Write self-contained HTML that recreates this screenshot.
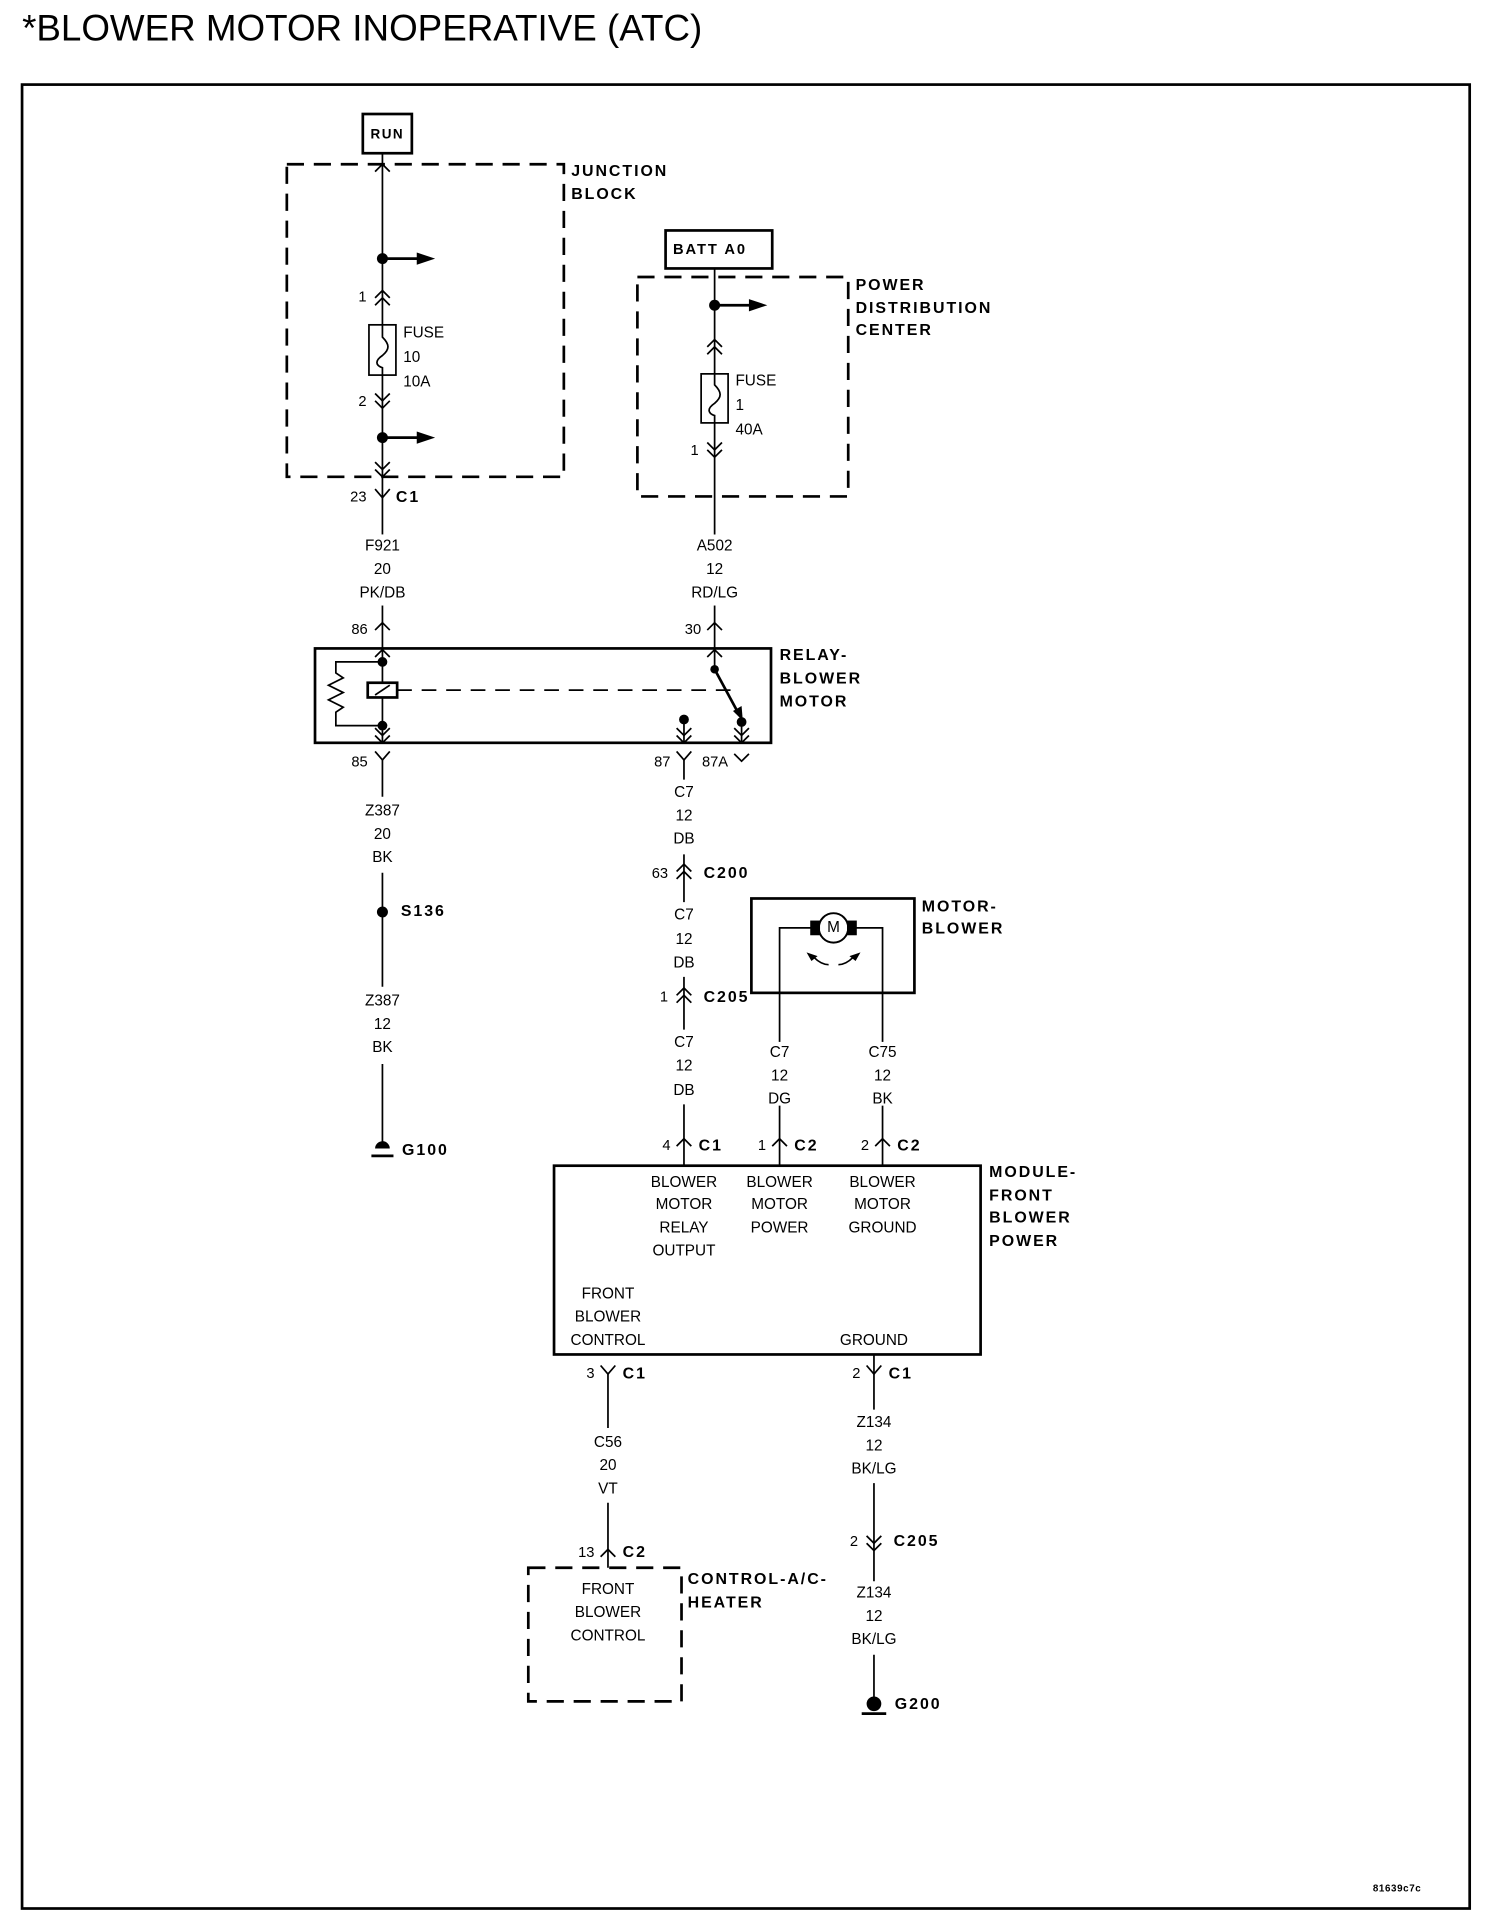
<!DOCTYPE html>
<html><head><meta charset="utf-8"><style>
html,body{margin:0;padding:0;background:#fff;}
svg{display:block}
.t{font-family:"Liberation Sans Narrow","Liberation Sans",sans-serif;font-size:12.5px;fill:#000;text-anchor:middle;dominant-baseline:middle}
.l{font-family:"Liberation Sans Narrow","Liberation Sans",sans-serif;font-size:12.5px;fill:#000;text-anchor:start;dominant-baseline:middle}
.b{font-family:"Liberation Sans",sans-serif;font-weight:bold;font-size:13px;letter-spacing:1.6px;fill:#000;dominant-baseline:middle}
.bc{font-family:"Liberation Sans",sans-serif;font-weight:bold;font-size:11px;letter-spacing:1.2px;fill:#000;dominant-baseline:middle;text-anchor:middle}
.n{font-family:"Liberation Sans Narrow","Liberation Sans",sans-serif;font-size:12px;fill:#000;text-anchor:end;dominant-baseline:middle}
.w{stroke:#000;stroke-width:1.4;fill:none}
.k{stroke:#000;stroke-width:2.2;fill:none}
.d{stroke:#000;stroke-width:2.2;fill:none;stroke-dasharray:14,8}
</style></head><body>
<svg width="1504" height="1922" viewBox="0 0 1227 1568" xmlns="http://www.w3.org/2000/svg">
<defs>
<g id="Y"><path class="w" d="M-6,-7 L0,0 L6,-7"/></g>
<g id="A"><path class="w" d="M-6,6 L0,0 L6,6"/></g>
<g id="AA"><path class="w" d="M-6,6 L0,0 L6,6 M-6,12 L0,6 L6,12"/></g>
<g id="VV"><path class="w" d="M-6,-6 L0,0 L6,-6 M-6,-12 L0,-6 L6,-12"/></g>
<g id="arr"><path class="k" d="M0,0 L30,0"/><path d="M28,-5 L43,0 L28,5 Z" fill="#000"/></g>
</defs>
<text x="18" y="25" style="font-family:'Liberation Sans',sans-serif;font-size:30px;dominant-baseline:middle">*BLOWER MOTOR INOPERATIVE (ATC)</text>
<rect x="18" y="69" width="1181" height="1488" class="k"/>

<!-- left column -->
<rect x="296" y="93" width="40" height="32" class="k"/>
<text x="316" y="110" class="bc">RUN</text>
<rect x="234" y="134" width="226" height="255" class="d"/>
<text x="466" y="140" class="b">JUNCTION</text><text x="466" y="159" class="b">BLOCK</text>
<path class="w" d="M312,125 L312,265 M312,306 L312,406"/>
<use href="#A" x="312" y="134"/>
<circle cx="312" cy="211" r="4.5"/><use href="#arr" x="312" y="211"/>
<use href="#AA" x="312" y="237"/><text x="299" y="243" class="n">1</text>
<rect x="301" y="265" width="22" height="41" class="w"/>
<path class="w" d="M312,265 L312,275 C318,281 318,285 312,290 C306,294 306,298 312,300 L312,306"/>
<text x="329" y="272" class="l">FUSE</text><text x="329" y="292" class="l">10</text><text x="329" y="312" class="l">10A</text>
<use href="#VV" x="312" y="333"/><text x="299" y="328" class="n">2</text>
<circle cx="312" cy="357" r="4.5"/><use href="#arr" x="312" y="357"/>
<use href="#VV" x="312" y="389"/>
<use href="#Y" x="312" y="406"/><path class="w" d="M312,406 L312,436"/>
<text x="299" y="406" class="n">23</text><text x="323" y="406" class="b">C1</text>
<text x="312" y="446" class="t">F921</text><text x="312" y="465" class="t">20</text><text x="312" y="484" class="t">PK/DB</text>
<path class="w" d="M312,494 L312,529"/>
<use href="#A" x="312" y="508"/><text x="300" y="514" class="n">86</text>

<!-- relay -->
<rect x="257" y="529" width="372" height="77" class="k"/>
<text x="636" y="535" class="b">RELAY-</text><text x="636" y="554" class="b">BLOWER</text><text x="636" y="573" class="b">MOTOR</text>
<use href="#A" x="312" y="530"/><use href="#VV" x="312" y="606"/>
<path class="w" d="M312,529 L312,606"/>
<circle cx="312" cy="540" r="4"/><circle cx="312" cy="592" r="4"/>
<path class="w" d="M312,540 L274,540 L274,549 L280,553 L268,559 L280,565 L268,571 L280,577 L274,581 L274,592 L312,592"/>
<rect x="300" y="557" width="24" height="12" class="k" style="fill:#fff"/>
<path class="w" d="M306,567 L318,559"/>
<path class="w" d="M324,563 L598,563" stroke-dasharray="12,8"/>
<use href="#A" x="583" y="530"/>
<path class="w" d="M583,529 L583,546"/><circle cx="583" cy="546" r="3.5"/>
<path class="k" d="M583,546 L603,583"/><path d="M598,580 L606,588 L605,576 Z"/>
<circle cx="605" cy="589" r="4"/><path class="w" d="M605,589 L605,606"/><use href="#VV" x="605" y="606"/>
<circle cx="558" cy="587" r="4"/><path class="w" d="M558,587 L558,606"/><use href="#VV" x="558" y="606"/>
<use href="#Y" x="312" y="620"/><text x="300" y="622" class="n">85</text>
<use href="#Y" x="558" y="620"/><text x="547" y="622" class="n">87</text>
<path class="w" d="M599,615 L605,621 L611,615"/><text x="594" y="622" class="n">87A</text>

<path class="w" d="M312,620 L312,650 M312,712 L312,805 M312,868 L312,933"/>
<text x="312" y="662" class="t">Z387</text><text x="312" y="681" class="t">20</text><text x="312" y="700" class="t">BK</text>
<circle cx="312" cy="744" r="4.5"/><text x="327" y="744" class="b">S136</text>
<text x="312" y="817" class="t">Z387</text><text x="312" y="836" class="t">12</text><text x="312" y="855" class="t">BK</text>
<path d="M306,937 A6,6 0 0 1 318,937 Z"/><path class="k" d="M303,943 L321,943"/>
<text x="328" y="939" class="b">G100</text>

<!-- right column -->
<rect x="543" y="188" width="87" height="31" class="k"/>
<text x="549" y="204" class="b" style="font-size:12px">BATT A0</text>
<rect x="520" y="226" width="172" height="179" class="d"/>
<text x="698" y="233" class="b">POWER</text><text x="698" y="252" class="b">DISTRIBUTION</text><text x="698" y="270" class="b">CENTER</text>
<path class="w" d="M583,219 L583,305 M583,345 L583,436"/>
<circle cx="583" cy="249" r="4.5"/><use href="#arr" x="583" y="249"/>
<use href="#AA" x="583" y="277"/>
<rect x="572" y="305" width="22" height="40" class="w"/>
<path class="w" d="M583,305 L583,314 C589,320 589,324 583,329 C577,333 577,337 583,339 L583,345"/>
<text x="600" y="311" class="l">FUSE</text><text x="600" y="331" class="l">1</text><text x="600" y="351" class="l">40A</text>
<use href="#VV" x="583" y="373"/><text x="570" y="368" class="n">1</text>
<text x="583" y="446" class="t">A502</text><text x="583" y="465" class="t">12</text><text x="583" y="484" class="t">RD/LG</text>
<path class="w" d="M583,494 L583,529"/>
<use href="#A" x="583" y="508"/><text x="572" y="514" class="n">30</text>

<path class="w" d="M558,620 L558,636 M558,697 L558,736 M558,797 L558,840 M558,901 L558,951"/>
<text x="558" y="647" class="t">C7</text><text x="558" y="666" class="t">12</text><text x="558" y="685" class="t">DB</text>
<use href="#AA" x="558" y="705"/><text x="545" y="713" class="n">63</text><text x="574" y="713" class="b">C200</text>
<text x="558" y="747" class="t">C7</text><text x="558" y="767" class="t">12</text><text x="558" y="786" class="t">DB</text>
<use href="#AA" x="558" y="806"/><text x="545" y="814" class="n">1</text><text x="574" y="814" class="b">C205</text>
<text x="558" y="851" class="t">C7</text><text x="558" y="870" class="t">12</text><text x="558" y="890" class="t">DB</text>
<use href="#A" x="558" y="929"/><text x="547" y="935" class="n">4</text><text x="570" y="935" class="b">C1</text>

<!-- motor -->
<rect x="613" y="733" width="133" height="77" class="k"/>
<text x="752" y="740" class="b">MOTOR-</text><text x="752" y="758" class="b">BLOWER</text>
<path class="w" d="M636,951 L636,757 L720,757 L720,951"/>
<circle cx="680" cy="757" r="12" fill="#fff" stroke="#000" stroke-width="1.6"/>
<text x="680" y="757" class="t">M</text>
<rect x="661" y="751" width="8" height="12"/><rect x="691" y="751" width="8" height="12"/>
<path class="w" d="M664,781 Q670,787 676,787 M684,787 Q690,787 696,781"/>
<path d="M658,777 L667,780 L662,784 Z M702,777 L693,780 L698,784 Z"/>
<rect x="625" y="850" width="22" height="52" fill="#fff"/><rect x="709" y="850" width="22" height="52" fill="#fff"/>
<text x="636" y="859" class="t">C7</text><text x="636" y="878" class="t">12</text><text x="636" y="897" class="t">DG</text>
<text x="720" y="859" class="t">C75</text><text x="720" y="878" class="t">12</text><text x="720" y="897" class="t">BK</text>
<use href="#A" x="636" y="929"/><text x="625" y="935" class="n">1</text><text x="648" y="935" class="b">C2</text>
<use href="#A" x="720" y="929"/><text x="709" y="935" class="n">2</text><text x="732" y="935" class="b">C2</text>

<!-- module -->
<rect x="452" y="951" width="348" height="154" class="k"/>
<text x="807" y="957" class="b">MODULE-</text><text x="807" y="976" class="b">FRONT</text><text x="807" y="994" class="b">BLOWER</text><text x="807" y="1013" class="b">POWER</text>
<text x="558" y="965" class="t">BLOWER</text><text x="558" y="983" class="t">MOTOR</text><text x="558" y="1002" class="t">RELAY</text><text x="558" y="1021" class="t">OUTPUT</text>
<text x="636" y="965" class="t">BLOWER</text><text x="636" y="983" class="t">MOTOR</text><text x="636" y="1002" class="t">POWER</text>
<text x="720" y="965" class="t">BLOWER</text><text x="720" y="983" class="t">MOTOR</text><text x="720" y="1002" class="t">GROUND</text>
<text x="496" y="1056" class="t">FRONT</text><text x="496" y="1075" class="t">BLOWER</text><text x="496" y="1094" class="t">CONTROL</text>
<text x="713" y="1094" class="t">GROUND</text>

<path class="w" d="M496,1121 L496,1165 M496,1226 L496,1279"/>
<use href="#Y" x="496" y="1121"/><text x="485" y="1121" class="n">3</text><text x="508" y="1121" class="b">C1</text>
<text x="496" y="1177" class="t">C56</text><text x="496" y="1196" class="t">20</text><text x="496" y="1215" class="t">VT</text>
<use href="#A" x="496" y="1264"/><text x="485" y="1267" class="n">13</text><text x="508" y="1267" class="b">C2</text>
<rect x="431" y="1279" width="125" height="109" class="d"/>
<text x="561" y="1289" class="b">CONTROL-A/C-</text><text x="561" y="1308" class="b">HEATER</text>
<text x="496" y="1297" class="t">FRONT</text><text x="496" y="1316" class="t">BLOWER</text><text x="496" y="1335" class="t">CONTROL</text>

<path class="w" d="M713,1105 L713,1150 M713,1210 L713,1290 M713,1350 L713,1386"/>
<use href="#Y" x="713" y="1121"/><text x="702" y="1121" class="n">2</text><text x="725" y="1121" class="b">C1</text>
<text x="713" y="1161" class="t">Z134</text><text x="713" y="1180" class="t">12</text><text x="713" y="1199" class="t">BK/LG</text>
<use href="#VV" x="713" y="1265"/><text x="700" y="1258" class="n">2</text><text x="729" y="1258" class="b">C205</text>
<text x="713" y="1300" class="t">Z134</text><text x="713" y="1319" class="t">12</text><text x="713" y="1338" class="t">BK/LG</text>
<circle cx="713" cy="1390" r="6"/><path class="k" d="M703,1398 L723,1398"/>
<text x="730" y="1391" class="b">G200</text>

<text x="1120" y="1541" class="b" style="font-size:8px;letter-spacing:0.5px">81639c7c</text>
</svg>
</body></html>
